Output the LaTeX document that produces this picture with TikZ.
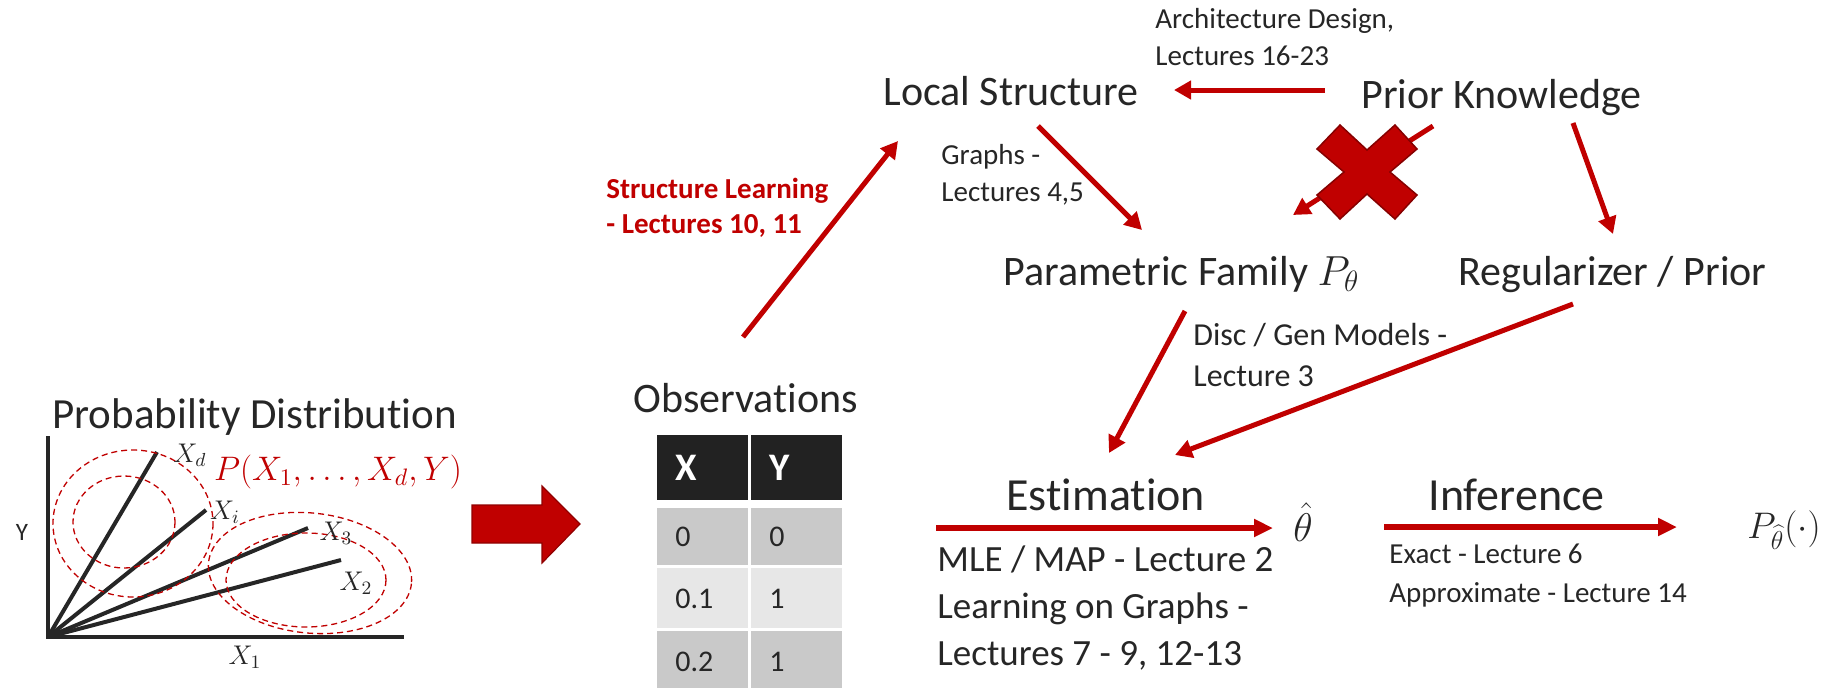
\RequirePackage{fix-cm}
\documentclass[tikz,border=0pt]{standalone}
\usepackage{fontspec}
\setmainfont{Carlito}[Ligatures=NoCommon]
\usetikzlibrary{arrows.meta}

\definecolor{lecred}{RGB}{192,0,0}
\definecolor{ink}{RGB}{38,38,38}
\definecolor{hdr}{RGB}{34,34,34}
\definecolor{rowdark}{RGB}{201,201,201}
\definecolor{rowlight}{RGB}{231,231,231}

\begin{document}
\begin{tikzpicture}[x=0.5pt,y=-0.5pt]
   \tikzstyle{every node}=[inner sep=0pt, text=ink]
   \tikzstyle{big}=[font=\fontsize{21}{25}\selectfont, anchor=base west]
   \tikzstyle{mid}=[font=\fontsize{23}{27}\selectfont, anchor=base west]
   \tikzstyle{note}=[font=\fontsize{14.5}{18.5}\selectfont, align=left, anchor=base west]
   \tikzstyle{conn}=[draw=lecred, line width=2.5pt, -{Triangle[length=8.5pt,width=9pt]}]
   \tikzstyle{flow}=[draw=lecred, line width=3pt, -{Triangle[length=9.5pt,width=8.5pt]}]
   \tikzstyle{cell}=[anchor=north west, minimum width=45.5pt, text width=27.5pt, inner xsep=9pt, align=left, font=\fontsize{15}{18}\selectfont]
   \tikzstyle{contour}=[draw=lecred, line width=0.65pt, dash pattern=on 3pt off 2pt]
   \tikzstyle{ray}=[draw=ink, line width=2pt]

\useasboundingbox (0,0) rectangle (1848,687);

% distribution sketch
\node[big, font=\fontsize{21.5}{25}\selectfont] (pdist) at (52,428) {Probability Distribution};
\coordinate (o) at (48,637);
\coordinate (ytop) at (48,436);
\coordinate (xend) at (404,637);
\draw[ray] (ytop) -- (o) -- (xend);
\coordinate (rd) at (157,452);
\coordinate (ri) at (206,510);
\coordinate (r3) at (308,528);
\coordinate (r2) at (341,560);
\draw[ray] (o) -- (rd);
\draw[ray] (o) -- (ri);
\draw[ray] (o) -- (r3);
\draw[ray] (o) -- (r2);
\draw[contour] (133,523.5) ellipse [x radius=80, y radius=73.5];
\draw[contour] (124,522) ellipse [x radius=51, y radius=46];
\draw[contour, rotate around={-6:(310,573)}] (310,573) ellipse [x radius=102, y radius=60];
\draw[contour] (306,580) ellipse [x radius=80, y radius=47];
\node[font=\fontsize{13.5}{15}\selectfont] (lxd) at (190,455) {$X_d$};
\node[font=\fontsize{13.5}{15}\selectfont] (lxi) at (225,512) {$X_i$};
\node[font=\fontsize{13.5}{15}\selectfont] (lx3) at (336,533) {$X_3$};
\node[font=\fontsize{13.5}{15}\selectfont] (lx2) at (356,583) {$X_2$};
\node[font=\fontsize{13.5}{15}\selectfont] (lx1) at (245,657) {$X_1$};
\node[font=\fontsize{12.5}{15}\selectfont] (ly) at (22,532) {Y};
\node[font=\fontsize{17}{20}\selectfont, text=lecred, anchor=base] (joint) at (338,480) {$P(X_1,\ldots,X_d,Y)$};

% block arrow
\filldraw[fill=lecred, draw=lecred!75!black, line width=0.6pt] (472,505) -- (542,505) -- (542,486) -- (580,524) -- (542,563) -- (542,543) -- (472,543) -- cycle;

% observations table
\node[big] (obs) at (633,412) {Observations};
\node[cell, fill=hdr, minimum height=32.5pt, text=white, font=\bfseries\fontsize{19.5}{22}\selectfont] (hx) at (657,435) {X};
\node[cell, fill=hdr, minimum height=32.5pt, text=white, font=\bfseries\fontsize{19.5}{22}\selectfont] (hy) at (751,435) {Y};
\node[cell, fill=rowdark, minimum height=28.5pt] (ax) at (657,508) {0};
\node[cell, fill=rowdark, minimum height=28.5pt] (ay) at (751,508) {0};
\node[cell, fill=rowlight, minimum height=30pt] (bx) at (657,568) {0.1};
\node[cell, fill=rowlight, minimum height=30pt] (by) at (751,568) {1};
\node[cell, fill=rowdark, minimum height=30pt] (cx) at (657,631) {0.2};
\node[cell, fill=rowdark, minimum height=30pt] (cy) at (751,631) {1};

% model side
\node[big] (local) at (883,105) {Local Structure};
\node[big] (prior) at (1361,108) {Prior Knowledge};
\node[big] (param) at (1003,285) {Parametric Family $P_\theta$};
\node[big] (reg) at (1458,285) {Regularizer / Prior};
\node[note] (arch) at (1155,65) {Architecture Design,\\Lectures 16-23};
\node[note] (graphs) at (941,201) {Graphs -\\Lectures 4,5};
\node[note, font=\bfseries\fontsize{14.5}{17.5}\selectfont, text=lecred] (slearn) at (606,233) {Structure Learning\\- Lectures 10, 11};
\node[note, font=\fontsize{16}{20.5}\selectfont] (disc) at (1193,386) {Disc / Gen Models -\\Lecture 3};

\coordinate (obs-out) at (743,337);
\coordinate (local-in) at (898,141);
\coordinate (prior-w) at (1325,90);
\coordinate (local-e) at (1174,90);
\coordinate (local-out) at (1038,126);
\coordinate (param-in) at (1142,230);
\coordinate (prior-sw) at (1433,126);
\coordinate (param-ne) at (1293,215);
\coordinate (prior-se) at (1573,123);
\coordinate (reg-in) at (1613,234);
\coordinate (param-out) at (1185,311);
\coordinate (est-in1) at (1109,453);
\coordinate (reg-out) at (1573,304);
\coordinate (est-in2) at (1175,455);
\draw[conn] (obs-out) -- (local-in);
\draw[conn] (prior-w) -- (local-e);
\draw[conn] (local-out) -- (param-in);
\draw[conn] (prior-sw) -- (param-ne);
\draw[conn] (prior-se) -- (reg-in);
\draw[conn] (param-out) -- (est-in1);
\draw[conn] (reg-out) -- (est-in2);

% cross over the blocked link
\filldraw[fill=lecred, draw=lecred!70!black, line width=0.75pt, shift={(1367,172)}]
   (-50,-23) -- (-27,-47) -- (0,-22) -- (28,-47) -- (50,-23) -- (23,0) -- (50,23)
   -- (28,47) -- (0,22) -- (-27,47) -- (-50,23) -- (-23,0) -- cycle;

% estimation and inference
\node[mid] (est) at (1006,510) {Estimation};
\node[mid] (inf) at (1428,510) {Inference};
\node[font=\fontsize{20}{24}\selectfont, anchor=base] (thetahat) at (1303,541) {$\hat{\theta}$};
\node[font=\fontsize{18.5}{22}\selectfont, anchor=base west] (pout) at (1747,538) {$P_{\widehat{\theta}}(\cdot)$};
\coordinate (est-start) at (936,528);
\coordinate (est-end) at (1273,528);
\coordinate (inf-start) at (1384,527);
\coordinate (inf-end) at (1677,527);
\draw[flow] (est-start) -- (est-end);
\draw[flow] (inf-start) -- (inf-end);
\node[note, font=\fontsize{18.5}{23.5}\selectfont] (mle) at (937,665) {MLE / MAP - Lecture 2\\Learning on Graphs -\\Lectures 7 - 9, 12-13};
\node[note, font=\fontsize{14.5}{19.5}\selectfont] (exact) at (1389,602) {Exact - Lecture 6\\Approximate - Lecture 14};

\end{tikzpicture}
\end{document}
